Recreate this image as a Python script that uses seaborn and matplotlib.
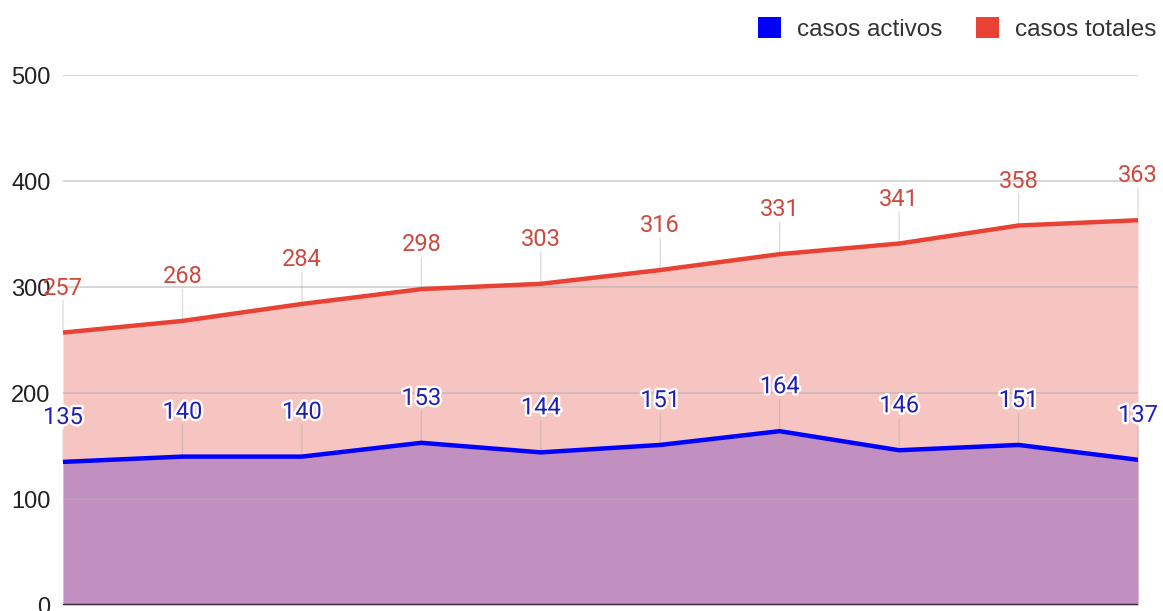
import matplotlib
matplotlib.use("Agg")
import matplotlib.pyplot as plt
import matplotlib.patheffects as pe
from matplotlib.patches import Patch
import seaborn as sns
import pandas as pd
import numpy as np

# data
dias = list(range(10))
casos_activos = [135, 140, 140, 153, 144, 151, 164, 146, 151, 137]
casos_totales = [257, 268, 284, 298, 303, 316, 331, 341, 358, 363]
y_ticks = [0, 100, 200, 300, 400, 500]

BLUE = "#0000ff"
RED = "#e94235"
RED_FILL = "#f7c5c1"
PURPLE_FILL = "#c190c0"

sns.set_theme(style="white")
plt.rcParams["font.family"] = ["Liberation Sans", "DejaVu Sans"]

df = pd.DataFrame({"dia": dias, "activos": casos_activos, "totales": casos_totales})

fig = plt.figure(figsize=(11.63, 6.11), dpi=100)
ax = fig.add_axes([63 / 1163, 6 / 611, (1138 - 63) / 1163, (605 - 75) / 611])

ax.fill_between(df["dia"], 0, df["totales"], color=RED_FILL, lw=0, zorder=1)
ax.fill_between(df["dia"], 0, df["activos"], color=PURPLE_FILL, lw=0, zorder=1.1)

for y in y_ticks[1:]:
    ax.axhline(y, color="#b0b0b0", lw=1.2, alpha=0.6, zorder=1.5)
ax.axhline(0, color="#3a2a3a", lw=2.5, zorder=4)

sns.lineplot(data=df, x="dia", y="totales", ax=ax, color=RED, lw=3.2, zorder=3)
sns.lineplot(data=df, x="dia", y="activos", ax=ax, color=BLUE, lw=3.2, zorder=3)

off_pts = 32
for xs, ys, col, halo in [(dias, casos_totales, "#cc4a40", False),
                          (dias, casos_activos, "#1f1fb5", True)]:
    for x, y in zip(xs, ys):
        ax.annotate("", xy=(x, y), xytext=(0, off_pts - 9), textcoords="offset points",
                    arrowprops=dict(arrowstyle="-", color="#999999", lw=0.9, alpha=0.35,
                                    shrinkA=0, shrinkB=0), zorder=2)
        effects = [pe.withStroke(linewidth=3.5, foreground="white")] if halo else []
        ax.annotate(str(y), xy=(x, y), xytext=(0, off_pts), textcoords="offset points",
                    ha="center", va="center", fontsize=17, color=col,
                    family=["Roboto", "DejaVu Sans"], zorder=6,
                    path_effects=effects)

ax.set_xlim(0, 9)
ax.set_ylim(0, 500)
ax.set_yticks(y_ticks)
ax.set_yticklabels([str(v) for v in y_ticks], fontsize=17, color="#222222")
ax.set_xticks([])
ax.set_xlabel("")
ax.set_ylabel("")
ax.tick_params(axis="y", length=0, pad=9)
for s in ax.spines.values():
    s.set_visible(False)

handles = [Patch(facecolor=BLUE, edgecolor="none", label="casos activos"),
           Patch(facecolor=RED, edgecolor="none", label="casos totales")]
fig.legend(handles=handles, loc="upper right", bbox_to_anchor=(1.013, 1.008), ncol=2,
           frameon=False, fontsize=17.5, handlelength=0.95, handleheight=0.95,
           handletextpad=0.65, columnspacing=1.4, labelcolor="#333333")

fig.savefig("out.png", dpi=100)
